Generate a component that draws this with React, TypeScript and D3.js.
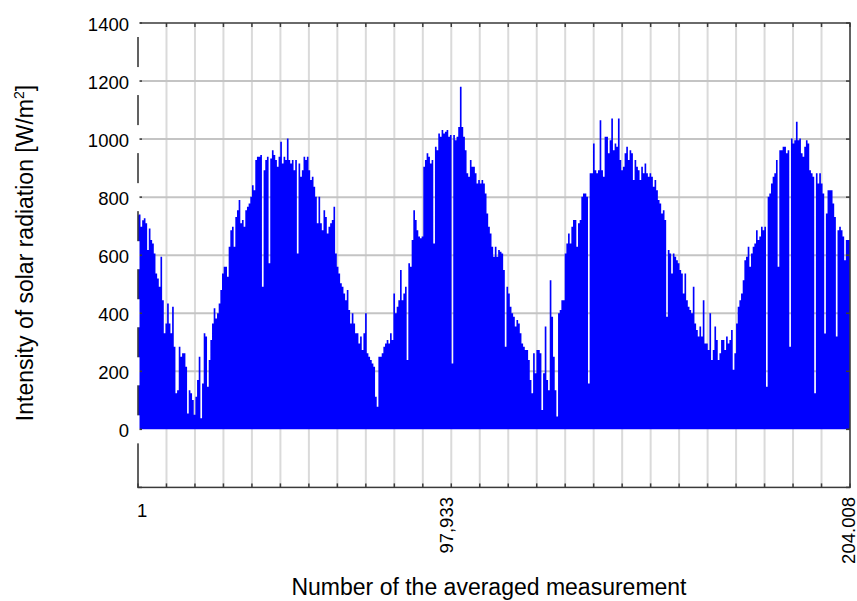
import React from "react";
import * as d3 from "d3";

// ---- data ----
const measurementFirst = 1;
const measurementLast = 204008;
const yTickValues = [0, 200, 400, 600, 800, 1000, 1200, 1400];
const xTickLabels = ["1", "97,933", "204.008"];
const xAxisTitle = "Number of the averaged measurement";
const yAxisTitle = "Intensity of solar radiation [W/m";

// daily peak intensity envelope [W/m2], in measurement order
const peakIrradiance: number[] = [
  // part 1
  738, 740, 698, 720, 727, 710, 618, 692, 652, 640, 606, 537, 520, 491, 595, 445, 331, 365, 434, 365,
  331, 422, 285, 124, 135, 285, 250, 262, 262, 216, 55, 135, 124, 101, 50, 112, 170, 250, 38, 158,
  331, 320, 147, 239, 308, 365, 417, 382, 400, 434, 480, 537, 560, 560, 526, 629, 686, 698, 629, 732,
  755, 790, 710, 721, 698, 755, 767, 778, 801, 841, 824, 928, 939, 939, 945, 491, 893, 928, 939, 572,
  933, 962, 945, 928, 905, 939, 991, 916, 939, 928, 1002, 928, 916, 928, 893, 928, 606, 916, 870, 893,
  939, 928, 939, 893, 859, 870, 836, 801,
  // part 2
  710, 801, 710, 686, 755, 732, 675, 698, 710, 721, 767, 606, 560, 537, 503, 491, 468, 445, 480, 411,
  365, 400, 365, 331, 331, 296, 320, 273, 331, 400, 262, 250, 239, 227, 216, 112, 78, 250, 250, 262,
  285, 296, 308, 296, 331, 308, 468, 400, 422, 445, 549, 445, 468, 491, 239, 572, 560, 652, 755, 721,
  686, 664, 658, 664, 905, 928, 951, 939, 916, 928, 640, 974, 962, 1019, 1008, 1031, 1019, 1025, 1031, 1008,
  1014, 227, 1014, 996, 1008, 1042, 1180, 1042, 1008, 962, 882, 870, 928, 905, 905, 882, 847, 859, 847, 859,
  847, 813, 744, 698, 675, 629, 595,
  // part 3
  629, 595, 618, 612, 606, 549, 285, 491, 468, 422, 400, 388, 354, 377, 365, 331, 296, 285, 273, 273,
  239, 170, 124, 262, 193, 273, 273, 262, 67, 193, 354, 170, 135, 514, 388, 250, 135, 44, 400, 411,
  445, 445, 606, 640, 675, 640, 698, 721, 721, 629, 710, 721, 801, 813, 813, 801, 158, 882, 882, 985,
  893, 882, 893, 1065, 893, 870, 1008, 1008, 951, 996, 1071, 962, 985, 974, 1071, 928, 893, 905, 951, 974,
  928, 962, 951, 859, 928, 905, 893, 859, 905, 882, 916, 882, 870, 882, 870, 836, 859, 824, 790, 778,
  744, 755, 721, 388, 618, 606, 537,
  // part 4
  606, 595, 583, 572, 549, 537, 468, 537, 445, 422, 411, 400, 491, 365, 342, 320, 354, 320, 445, 296,
  296, 273, 400, 239, 273, 354, 308, 239, 262, 308, 308, 273, 320, 296, 308, 342, 205, 262, 365, 422,
  445, 468, 514, 583, 595, 629, 560, 606, 629, 640, 686, 652, 664, 698, 686, 698, 147, 801, 813, 847,
  870, 882, 928, 560, 962, 962, 974, 974, 951, 962, 285, 1002, 985, 996, 1060, 996, 1002, 951, 939, 974,
  996, 985, 893, 882, 870, 124, 882, 847, 882, 847, 813, 330, 744, 824, 824, 824, 778, 732, 320, 686,
  698, 686, 664, 583, 652, 652, 652,
];

const W = 857;
const H = 601;
const plot = { left: 138, right: 850, top: 23, bottom: 487.4 };

export default function App() {
  const x = d3.scaleLinear().domain([measurementFirst, measurementLast]).range([plot.left, plot.right]);
  const y = d3.scaleLinear().domain([-200, 1400]).range([plot.bottom, plot.top]);

  const n = peakIrradiance.length;
  const sampleToMeasurement = d3
    .scaleLinear()
    .domain([0, n - 1])
    .range([measurementFirst, measurementLast]);

  const area = d3
    .area<number>()
    .x((_, i) => x(sampleToMeasurement(i)))
    .y0(y(0))
    .y1((d) => y(d))
    .curve(d3.curveStep);

  const gridCount = 25;
  const xGrid = d3.range(gridCount + 1).map((k) => measurementFirst + (k * (measurementLast - measurementFirst)) / gridCount);
  const hGrid = [200, 400, 600, 800, 1000, 1200];

  const xLabelPos = [
    { label: xTickLabels[0], mode: "upright", px: 137, py: 517 },
    { label: xTickLabels[1], mode: "rot", px: 453, py: 497 },
    { label: xTickLabels[2], mode: "rot", px: 854.5, py: 497 },
  ];

  const axisColor = "#3a3a3a";
  const font = "'Liberation Sans', Arial, Helvetica, sans-serif";

  return (
    <svg
      width={W}
      height={H}
      style={{ position: "absolute", left: 0, top: 0, background: "#fff" }}
      fontFamily={font}
    >
      <rect x={0} y={0} width={W} height={H} fill="#fff" />
      {/* grid */}
      {xGrid.map((v, i) => (
        <line key={"vg" + i} x1={x(v)} x2={x(v)} y1={plot.top} y2={plot.bottom} stroke="#dadada" strokeWidth={2} />
      ))}
      {hGrid.map((v) => (
        <line key={"hg" + v} x1={plot.left} x2={plot.right} y1={y(v)} y2={y(v)} stroke="#c4c4c4" strokeWidth={2} />
      ))}
      {/* data */}
      <path d={area(peakIrradiance) || ""} fill="#0000ff" stroke="none" />
      {/* axes box */}
      <rect
        x={plot.left}
        y={plot.top}
        width={plot.right - plot.left}
        height={plot.bottom - plot.top}
        fill="none"
        stroke={axisColor}
        strokeWidth={1.5}
      />
      {/* x ticks top and bottom */}
      {xGrid.map((v, i) => (
        <g key={"xt" + i}>
          <line x1={x(v)} x2={x(v)} y1={plot.bottom} y2={plot.bottom - 4} stroke={axisColor} strokeWidth={1.5} />
          <line x1={x(v)} x2={x(v)} y1={plot.top} y2={plot.top + 4} stroke={axisColor} strokeWidth={1.5} />
        </g>
      ))}
      {/* y ticks left and right */}
      {[-200, ...yTickValues].map((v) => (
        <g key={"yt" + v}>
          <line x1={plot.left} x2={plot.left + 4} y1={y(v)} y2={y(v)} stroke={axisColor} strokeWidth={1.5} />
          <line x1={plot.right} x2={plot.right - 4} y1={y(v)} y2={y(v)} stroke={axisColor} strokeWidth={1.5} />
        </g>
      ))}
      {/* y tick labels with white boxes */}
      {yTickValues.map((v) => (
        <g key={"yl" + v}>
          <rect x={98} y={y(v) - 14} width={41.5} height={28} fill="#fff" />
          <text x={129} y={y(v) + 8} textAnchor="end" fontSize={18.5} fill="#000">
            {v}
          </text>
        </g>
      ))}
      {/* x tick labels */}
      {xLabelPos.map((p) =>
        p.mode === "upright" ? (
          <text key={p.label} x={p.px} y={p.py} fontSize={18.5} fill="#000">
            {p.label}
          </text>
        ) : (
          <text
            key={p.label}
            transform={`translate(${p.px},${p.py}) rotate(-90)`}
            textAnchor="end"
            fontSize={18.5}
            fill="#000"
          >
            {p.label}
          </text>
        )
      )}
      {/* axis titles */}
      <text x={489} y={595} textAnchor="middle" fontSize={23} fill="#000">
        {xAxisTitle}
      </text>
      <text transform="translate(33,253) rotate(-90)" textAnchor="middle" fontSize={23} fill="#000">
        {yAxisTitle}
        <tspan fontSize={14} dy={-9}>
          2
        </tspan>
        <tspan dy={9}>]</tspan>
      </text>
    </svg>
  );
}
